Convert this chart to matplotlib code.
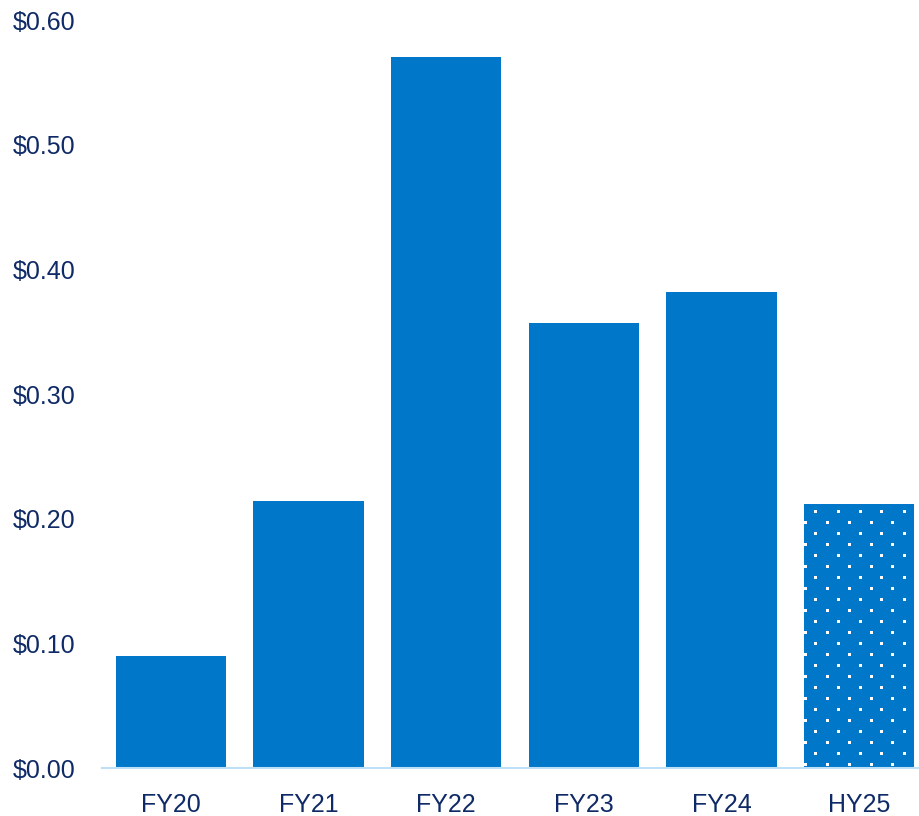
import numpy as np
import matplotlib
matplotlib.use("Agg")
import matplotlib.pyplot as plt

# values ($ per share)
periods = ["FY20", "FY21", "FY22", "FY23", "FY24", "HY25"]
values = [0.090, 0.214, 0.570, 0.357, 0.382, 0.212]
yticks = [0.0, 0.1, 0.2, 0.3, 0.4, 0.5, 0.6]

bar_color = "#0077C8"
text_color = "#0F2A66"

plt.rcParams["font.family"] = ["Liberation Sans", "DejaVu Sans"]

fig = plt.figure(figsize=(9.2, 8.16), dpi=100)
ax = fig.add_axes([102 / 920, 48 / 816, 826 / 920, 748 / 816])

x = np.arange(len(periods))
bars = ax.bar(x, values, width=0.8, color=bar_color, linewidth=0)

ax.set_xlim(-0.5, len(periods) - 0.5)
ax.set_ylim(0, 0.6)


def dot_texture(ax, bar, step=22, row=11):
    # staggered white dot pattern laid over a bar (in pixel spacing)
    (x0, y0) = ax.transData.transform((bar.get_x(), 0))
    (x1, y1) = ax.transData.transform((bar.get_x() + bar.get_width(), bar.get_height()))
    pts = []
    k = 0
    yy = y1 - 7
    while yy > y0:
        start = x0 + (11 if k % 2 == 0 else 0)
        xx = np.arange(start, x1 + 2, step)
        # snap to pixel centres so the dots stay crisp
        pts += [(np.floor(px) + 0.5, np.floor(yy) + 0.5) for px in xx]
        yy -= row
        k += 1
    pts = ax.transData.inverted().transform(np.array(pts))
    dots, = ax.plot(pts[:, 0], pts[:, 1], ls="none", marker="s", ms=2.16,
                    mew=0, color="white")
    dots.set_clip_path(bar)


# half-year bar gets the dotted texture
dot_texture(ax, bars[-1])

ax.set_xticks(x)
ax.set_xticklabels(periods)
ax.set_yticks(yticks)
ax.set_yticklabels(["${:.2f}".format(v) for v in yticks])
ax.tick_params(axis="both", length=0, labelsize=18, colors=text_color)
ax.tick_params(axis="y", pad=19)
ax.tick_params(axis="x", pad=18)

for s in ["top", "right", "left"]:
    ax.spines[s].set_visible(False)
ax.spines["bottom"].set_color("#BDE0F7")
ax.spines["bottom"].set_linewidth(1.5)

fig.savefig("out.png", dpi=100)
